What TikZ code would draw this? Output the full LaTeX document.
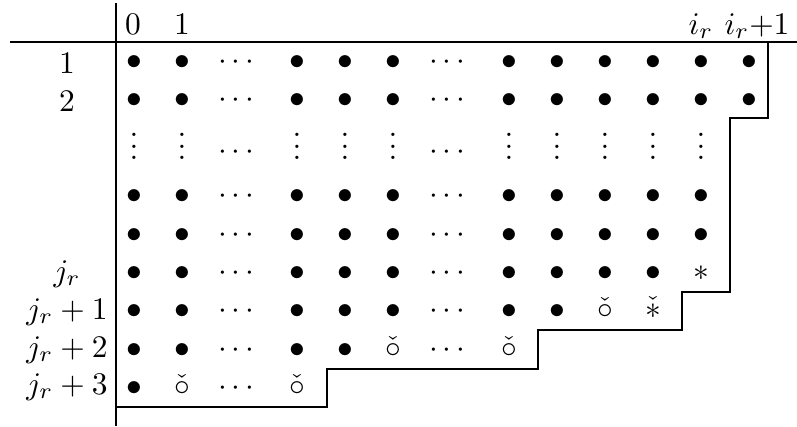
\documentclass[tikz,border=0pt]{standalone}
\usepackage{amsmath}
\usepackage{amssymb}
\usepackage{tikz}
\usetikzlibrary{positioning, calc}

\newcommand{\fl}{$\bullet$}
\newcommand{\hd}{$\cdots$}
\newcommand{\vd}{\vbox{\baselineskip3.5pt\lineskiplimit0pt\hbox{.}\hbox{.}\hbox{.}}}
\newcommand{\sr}{$\ast$}
\newcommand{\co}{$\check{\circ}$}
\newcommand{\cs}{$\check{\ast}$}

\tikzset{
  cell/.style={inner sep=0pt, anchor=base},
  rowlab/.style={inner sep=0pt, anchor=base},
  colhead/.style={inner sep=0pt, anchor=base},
  rule/.style={line width=0.4pt}
}

\begin{document}
\begin{tikzpicture}[x=0.318pt, y=-0.318pt]
  \useasboundingbox (0,0) rectangle (797,426);
  % column and row positions
  \foreach \x [count=\c] in {134,182,239,297,345,393,450,509,557,605,653,701,749}
    \coordinate (col\c) at (\x,0);
  \foreach \y [count=\r] in {69,107,159,203,242,280,318,357,395}
    \coordinate (row\r) at (0,\y);
  % headers
  \node[colhead] (h0) at (133,34) {$0$};
  \node[colhead] (h1) at (182,34) {$1$};
  \node[colhead] (hir) at (701,34) {$i_r$};
  \node[colhead] (hirp) at (757,34) {$i_r{+}1$};
  % row labels
  \foreach \t/\y [count=\r] in {1/73, 2/111, j_r/281, j_r+1/319, j_r+2/357, j_r+3/394}
    \node[rowlab] (lab\r) at (67,\y) {$\t$};
  % entries
  \foreach \r/\cells in {
    1/{\fl,\fl,\hd,\fl,\fl,\fl,\hd,\fl,\fl,\fl,\fl,\fl,\fl},
    2/{\fl,\fl,\hd,\fl,\fl,\fl,\hd,\fl,\fl,\fl,\fl,\fl,\fl},
    3/{\vd,\vd,\hd,\vd,\vd,\vd,\hd,\vd,\vd,\vd,\vd,\vd},
    4/{\fl,\fl,\hd,\fl,\fl,\fl,\hd,\fl,\fl,\fl,\fl,\fl},
    5/{\fl,\fl,\hd,\fl,\fl,\fl,\hd,\fl,\fl,\fl,\fl,\fl},
    6/{\fl,\fl,\hd,\fl,\fl,\fl,\hd,\fl,\fl,\fl,\fl,\sr},
    7/{\fl,\fl,\hd,\fl,\fl,\fl,\hd,\fl,\fl,\co,\cs},
    8/{\fl,\fl,\hd,\fl,\fl,\co,\hd,\co},
    9/{\fl,\co,\hd,\co}} {
    \foreach \s [count=\c] in \cells
      \node[cell] (e\r-\c) at (col\c |- row\r) {\s};
  }
  % rules
  \coordinate (hl) at (10,42);
  \coordinate (hr) at (797,42);
  \coordinate (vt) at (116,3);
  \coordinate (vb) at (116,426);
  \draw[rule] (hl) -- (hr);
  \draw[rule] (vt) -- (vb);
  % staircase
  \draw[rule] (768,42) |- (730,118) |- (682,292) |- (538,330) |- (327,369) |- (116,407);
\end{tikzpicture}
\end{document}
